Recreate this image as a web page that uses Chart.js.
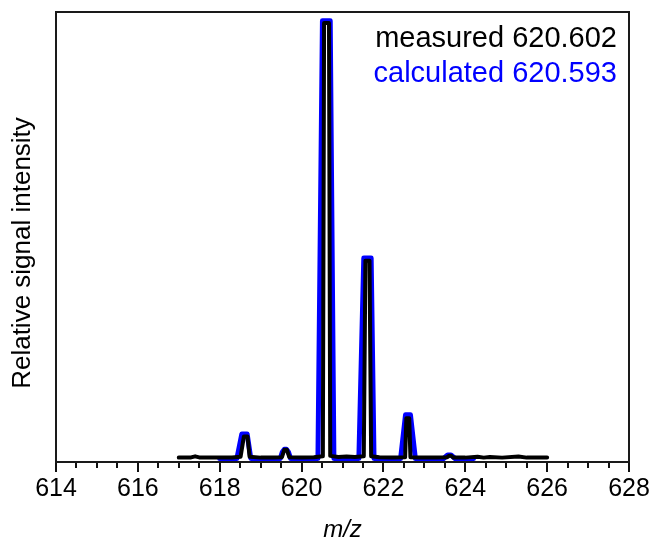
<!DOCTYPE html>
<html>
<head>
<meta charset="utf-8">
<script src="https://cdn.jsdelivr.net/npm/chart.js@4.4.1/dist/chart.umd.min.js"></script>
<style>
    html, body { margin: 0; padding: 0; background: #fff; }
    #wrap { width: 654px; height: 542px; }
</style>
</head>
<body>
<div id="wrap"><canvas id="spectrum" width="654" height="542"></canvas></div>
<script>
// Isotope pattern: measured vs calculated profile

const measuredMz = [617.0, 617.3, 617.4, 617.5, 617.9, 618.3, 618.51, 618.59, 618.68, 618.73,
    619.0, 619.3, 619.52, 619.58, 619.64, 619.7, 620.0, 620.3, 620.52, 620.55, 620.67, 620.70,
    620.9, 621.1, 621.3, 621.52, 621.56, 621.66, 621.70, 621.9, 622.2, 622.53, 622.56, 622.63,
    622.66, 622.9, 623.3, 623.56, 623.6, 623.66, 623.7, 624.0, 624.3, 624.45, 624.6, 624.9,
    625.3, 625.5, 626.0];
const measuredInt = [0.2, 0.25, 0.5, 0.25, 0.2, 0.25, 0.4, 5.0, 5.0, 0.4,
    0.2, 0.25, 0.3, 2.0, 2.0, 0.3, 0.25, 0.3, 0.5, 99.5, 99.5, 0.6,
    0.35, 0.45, 0.35, 0.5, 45.2, 45.2, 0.5, 0.3, 0.25, 0.3, 9.2, 9.2,
    0.3, 0.2, 0.2, 0.3, 0.6, 0.6, 0.25, 0.2, 0.4, 0.2, 0.35, 0.2,
    0.45, 0.2, 0.2];

const calculatedMz = [618.0, 618.42, 618.54, 618.67, 618.76, 619.48, 619.53, 619.58, 619.63,
    619.68, 619.73, 620.40, 620.51, 620.70, 620.79, 621.40, 621.52, 621.70, 621.77, 622.42,
    622.54, 622.66, 622.78, 623.47, 623.57, 623.65, 623.75, 624.2];
const calculatedInt = [0, 0, 5.6, 5.6, 0, 0, 1.5, 2.1, 2.1,
    1.5, 0, 0, 100, 100, 0, 0, 45.8, 45.8, 0, 0,
    10.0, 10.0, 0, 0, 0.8, 0.8, 0, 0];

const xTickValues = [614, 616, 618, 620, 622, 624, 626, 628];
const legendLines = [
    { text: 'measured 620.602', color: '#000000' },
    { text: 'calculated 620.593', color: '#0000ff' }
];
const yTitle = 'Relative signal intensity';
const xTitle = 'm/z';

const FONT = '"Liberation Sans", Arial, sans-serif';

function toPoints(xs, ys) {
    return xs.map((x, i) => ({ x: x, y: ys[i] }));
}

// Frame, tick marks, y title and the text legend
const decorPlugin = {
    id: 'decor',
    afterDraw(chart) {
        const ctx = chart.ctx;
        const area = chart.chartArea;
        const xs = chart.scales.x;
        ctx.save();

        // tick marks (outside, major every 2, minor every 0.5)
        ctx.strokeStyle = '#111';
        ctx.lineWidth = 2;
        for (let v = xs.min; v <= xs.max + 1e-6; v += 0.5) {
            const px = Math.round(xs.getPixelForValue(v));
            const len = xTickValues.includes(v) ? 10 : 6;
            ctx.beginPath();
            ctx.moveTo(px, area.bottom);
            ctx.lineTo(px, area.bottom + len);
            ctx.stroke();
        }

        // box
        ctx.strokeStyle = '#1a1a1a';
        ctx.lineWidth = 2;
        ctx.strokeRect(area.left, area.top, area.right - area.left, area.bottom - area.top);

        // y axis title
        ctx.fillStyle = '#000';
        ctx.font = '26px ' + FONT;
        ctx.textAlign = 'center';
        ctx.textBaseline = 'middle';
        ctx.translate(23, 253);
        ctx.rotate(-Math.PI / 2);
        ctx.fillText(yTitle, 0, 0);
        ctx.setTransform(1, 0, 0, 1, 0, 0);

        // legend text, right aligned
        ctx.font = '29px ' + FONT;
        ctx.textAlign = 'right';
        ctx.textBaseline = 'alphabetic';
        legendLines.forEach((line, i) => {
            ctx.fillStyle = line.color;
            ctx.fillText(line.text, 617, 47 + i * 35);
        });
        ctx.restore();
    }
};

const ctx = document.getElementById('spectrum').getContext('2d');
new Chart(ctx, {
    type: 'scatter',
    data: {
        datasets: [{
            label: 'measured',
            data: toPoints(measuredMz, measuredInt),
            showLine: true,
            borderColor: '#000000',
            borderWidth: 4,
            pointRadius: 0,
            tension: 0,
            borderJoinStyle: 'round',
            borderCapStyle: 'round',
            order: 1
        }, {
            label: 'calculated',
            data: toPoints(calculatedMz, calculatedInt),
            showLine: true,
            borderColor: '#0000ff',
            borderWidth: 5,
            pointRadius: 0,
            tension: 0,
            borderJoinStyle: 'round',
            borderCapStyle: 'round',
            order: 2
        }]
    },
    options: {
        responsive: false,
        animation: false,
        devicePixelRatio: 1,
        layout: { padding: { top: 12, right: 25, left: 0, bottom: 0 } },
        plugins: {
            legend: { display: false },
            tooltip: { enabled: false }
        },
        scales: {
            x: {
                type: 'linear',
                min: 614,
                max: 628,
                afterFit: s => {
                    s.height = 80;
                    s.paddingLeft = 0;
                    s.paddingRight = 0;
                },
                afterBuildTicks: s => { s.ticks = xTickValues.map(v => ({ value: v })); },
                grid: { display: false, drawTicks: false },
                border: { display: false },
                ticks: {
                    color: '#000',
                    font: { family: FONT, size: 25 },
                    padding: 12,
                    maxRotation: 0
                },
                title: {
                    display: true,
                    text: xTitle,
                    color: '#000',
                    font: { family: FONT, size: 24, style: 'italic', lineHeight: 1.0 },
                    padding: { top: 4, bottom: 0 }
                }
            },
            y: {
                min: -0.8,
                max: 102,
                afterFit: s => { s.width = 56; },
                grid: { display: false, drawTicks: false },
                border: { display: false },
                ticks: { display: false }
            }
        }
    },
    plugins: [decorPlugin]
});
</script>
</body>
</html>
